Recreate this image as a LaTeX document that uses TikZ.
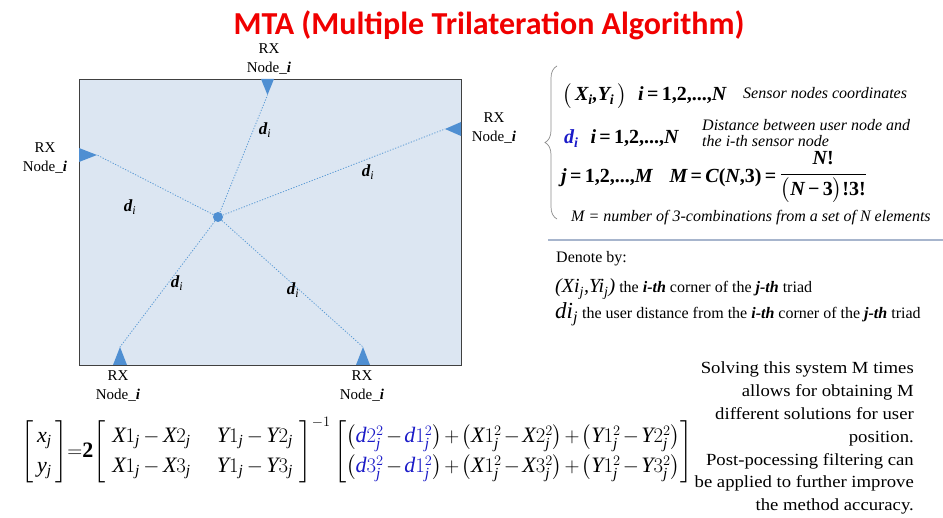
\documentclass[tikz,border=0pt]{standalone}
\usepackage{amsmath}
\usepackage{fontspec}
\setmainfont{Liberation Serif}
\newfontfamily\titlefont{Carlito}
\newfontfamily\notefont[FakeStretch=1.1]{Liberation Serif}
\usetikzlibrary{decorations.pathreplacing}
\definecolor{roomfill}{HTML}{DCE6F2}
\definecolor{roomedge}{HTML}{404040}
\definecolor{sensorblue}{HTML}{4F8FD2}
\definecolor{rayblue}{HTML}{5B9BD5}
\definecolor{eqblue}{HTML}{1A1AC8}
\definecolor{sepline}{HTML}{A7B5CD}
\definecolor{titlered}{HTML}{F00000}
\definecolor{bracegray}{HTML}{8C8C8C}
\newcommand{\I}[1]{\mathit{#1}}
\newcommand{\B}[1]{\text{\bfseries\itshape #1}}
\newcommand{\dq}[1]{{\color{eqblue}\I{d}#1}}
\newcommand{\mj}[2]{\I{#1}#2_{\I{j}}}
\newcommand{\ms}[2]{\I{#1}#2^2_{\I{j}}}
\newcommand{\eqs}{\,{\upshape =}\,}
\newcommand{\seq}{{\upshape 1,2,...,}}
\tikzset{
  rx/.style={font=\fontsize{15}{19}\selectfont, align=center, inner sep=0pt},
  dl/.style={font=\fontsize{17}{17}\selectfont, inner sep=0pt},
  sensor/.style={fill=sensorblue},
  ray/.style={rayblue, line width=0.8pt, dash pattern=on 1.2pt off 1.6pt},
  fx/.style={font=\fontsize{20}{22}\selectfont\bfseries\itshape\boldmath, inner sep=0pt, anchor=base west},
  desc/.style={font=\fontsize{16}{16}\selectfont\itshape, inner sep=0pt, anchor=base west},
  den/.style={font=\fontsize{16}{17}\selectfont, inner sep=0pt, anchor=base west},
  eq/.style={font=\fontsize{22}{26}\selectfont, inner sep=0pt},
  note/.style={font=\notefont\fontsize{17}{22.8}\selectfont, inner sep=0pt, align=right},
}
\begin{document}
\begin{tikzpicture}[x=1pt,y=-1pt]
\path[use as bounding box, fill=white] (0,0) rectangle (943,518);

% title
\node[font=\titlefont\bfseries\fontsize{32}{36}\selectfont, text=titlered, inner sep=0pt] (title) at (489,25.5) {MTA (Multiple Trilateration Algorithm)};

% room
\node[draw=roomedge, fill=roomfill, line width=1.4pt, anchor=north west, minimum width=382pt, minimum height=286pt, inner sep=0pt] (room) at (79,79) {};

% sensors
\fill[sensor] (261,79) -- (274,79) -- (267.5,95) -- cycle;
\coordinate (tT) at (267.5,95);
\fill[sensor] (79,148) -- (79,162) -- (97,155) -- cycle;
\coordinate (tL) at (97,155);
\fill[sensor] (461,122) -- (461,136) -- (445,129) -- cycle;
\coordinate (tR) at (445,129);
\fill[sensor] (113,365) -- (127,365) -- (120,347) -- cycle;
\coordinate (tBL) at (120,347);
\fill[sensor] (356,365) -- (370,365) -- (363,347) -- cycle;
\coordinate (tBR) at (363,347);

% user
\node[circle, fill=sensorblue, minimum size=10pt, inner sep=0pt] (user) at (218,217) {};
\foreach \t in {tT,tL,tR,tBL,tBR}{\draw[ray] (user) -- (\t);}

% distance labels
\node[dl] (d1) at (265,130) {$\B{d}_{\I{i}}$};
\node[dl] (d2) at (368,172) {$\B{d}_{\I{i}}$};
\node[dl] (d3) at (130,207) {$\B{d}_{\I{i}}$};
\node[dl] (d4) at (177,283) {$\B{d}_{\I{i}}$};
\node[dl] (d5) at (293,290) {$\B{d}_{\I{i}}$};

% RX labels
\node[rx] (lT) at (269,59) {RX\\Node\_\textbf{\textit{i}}};
\node[rx] (lL) at (45,158) {RX\\Node\_\textbf{\textit{i}}};
\node[rx] (lR) at (494,128) {RX\\Node\_\textbf{\textit{i}}};
\node[rx] (lBL) at (118,386) {RX\\Node\_\textbf{\textit{i}}};
\node[rx] (lBR) at (362,386) {RX\\Node\_\textbf{\textit{i}}};

% definitions
\draw[bracegray, line width=0.7pt, decorate, decoration={brace, amplitude=12pt}] (557,219) -- (557,66);
\node[fx] (f1) at (562,101) {$\bigl($\,X\textsubscript{i},Y\textsubscript{i}\,$\bigr)$\hspace{11pt}i\eqs\seq N};
\node[desc] (s1) at (743,99) {Sensor nodes coordinates};
\node[fx] (f2) at (564,144) {{\color{eqblue}d\textsubscript{i}}\hspace{12pt}i\eqs\seq N};
\node[desc, align=left, anchor=north west] (s2) at (702,119) {Distance between user node and\\the i-th sensor node};
\node[fx] (f3) at (561,183) {j\eqs\seq M\hspace{17pt}M\eqs C{\upshape (}N{\upshape ,3)}\eqs\raisebox{3pt}{$\dfrac{\text{N{\upshape !}}}{\text{$\bigl($N\,{\upshape −}\,{\upshape 3}$\bigr)${\upshape !3!}}}$}};
\node[desc] (s4) at (571,222) {M = number of 3-combinations from a set of N elements};

\draw[sepline, line width=1.2pt] (548,240) -- (943,240);

% denote
\node[den] (dn0) at (556,263) {Denote by:};
\node[den] (dn1) at (555,293) {{\fontsize{20}{20}\selectfont\itshape (Xi\textsubscript{j},Yi\textsubscript{j})} the \textbf{\textit{i-th}} corner of the \textbf{\textit{j-th}} triad};
\node[den] (dn2) at (555,319) {{\fontsize{23}{23}\selectfont\itshape di\textsubscript{j}} the user distance from the \textbf{\textit{i-th}} corner of the \textbf{\textit{j-th}} triad};

% equation
\node[eq] (eqn) at (357,450) {$\displaystyle
\medmuskip=2mu \thickmuskip=3mu \renewcommand{\arraystretch}{1.15}
\begin{bmatrix}\;\I{x}_{\I{j}}\;\\ \;\I{y}_{\I{j}}\;\end{bmatrix}
\!=\!\mathbf{2}
\setlength{\arraycolsep}{13pt}
{\medmuskip=3mu
\begin{bmatrix}\;\,\mj{X}{1}-\mj{X}{2} & \mj{Y}{1}-\mj{Y}{2}\,\;\\ \;\,\mj{X}{1}-\mj{X}{3} & \mj{Y}{1}-\mj{Y}{3}\,\;\end{bmatrix}}^{-1}
\begin{bmatrix}
\bigl(\dq{2^2_{\I{j}}}-\dq{1^2_{\I{j}}}\bigr)+\bigl(\ms{X}{1}-\ms{X}{2}\bigr)+\bigl(\ms{Y}{1}-\ms{Y}{2}\bigr)\\
\bigl(\dq{3^2_{\I{j}}}-\dq{1^2_{\I{j}}}\bigr)+\bigl(\ms{X}{1}-\ms{X}{3}\bigr)+\bigl(\ms{Y}{1}-\ms{Y}{3}\bigr)
\end{bmatrix}$};

% note
\node[note, anchor=north east] (nt) at (914,362) {Solving this system M times\\allows for obtaining M\\different solutions for user\\position.\\Post-pocessing filtering can\\be applied to further improve\\the method accuracy.};
\end{tikzpicture}
\end{document}
